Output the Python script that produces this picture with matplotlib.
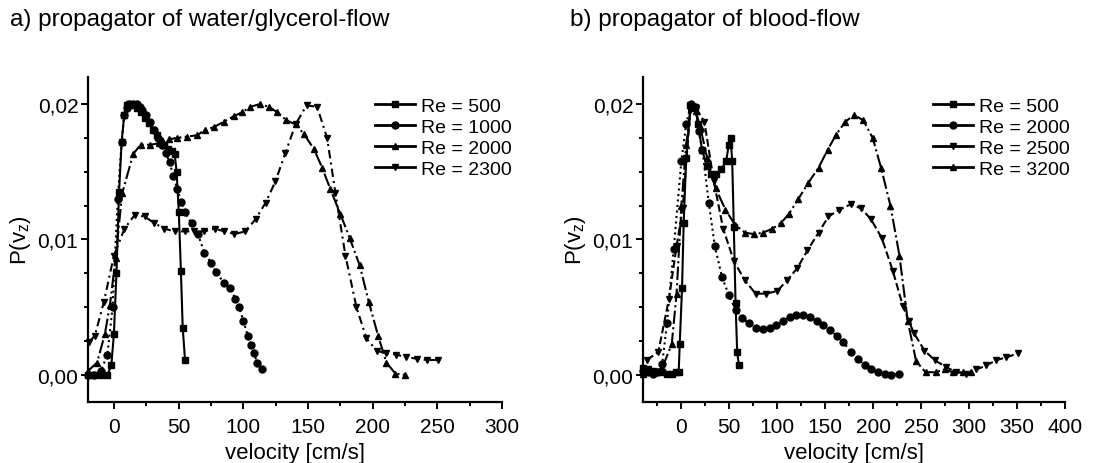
import matplotlib
matplotlib.use("Agg")
import matplotlib.pyplot as plt
from matplotlib.ticker import MultipleLocator, FuncFormatter

plt.rcParams['font.family'] = ['Liberation Sans', 'DejaVu Sans']

# ---------- panel a: water/glycerol ----------
a_labels = ["Re = 500", "Re = 1000", "Re = 2000", "Re = 2300"]
a500_x = [-20, -15, -10, -5, -2, 0, 2, 4, 6, 8, 10, 12, 15, 18, 21, 24, 27, 30, 33, 36, 39, 42, 45, 47, 48.5, 50.2, 51.8, 53.2, 55]
a500_y = [0.0, 0.0, 0.0, 0.0, 0.0007, 0.003, 0.0075, 0.0135, 0.0172, 0.0192, 0.0199, 0.0200, 0.0199, 0.0197, 0.0194, 0.0190, 0.0186, 0.0181, 0.0177, 0.0173, 0.0170, 0.0167, 0.0165, 0.0163, 0.0150, 0.0120, 0.0077, 0.0035, 0.0011]
a1000_x = [-20, -15, -10, -5, -1, 3, 6, 8, 10, 12, 15, 18, 20, 22, 25, 28, 31, 34, 37, 40, 43, 46, 49, 52, 55, 60, 65, 70, 75, 79, 85, 90, 94, 97, 100, 103.5, 106, 108, 111, 114.6]
a1000_y = [0.0, 0.0, 0.0003, 0.0015, 0.005, 0.013, 0.0172, 0.0192, 0.0197, 0.0200, 0.0200, 0.0200, 0.0198, 0.0196, 0.0192, 0.0187, 0.0181, 0.0175, 0.0170, 0.0164, 0.0157, 0.0147, 0.0137, 0.0128, 0.0120, 0.0112, 0.0104, 0.0090, 0.0083, 0.0076, 0.0068, 0.0064, 0.0056, 0.0050, 0.0040, 0.0029, 0.0022, 0.0016, 0.0009, 0.0004]
a2000_x = [-20, -13, -7, -3, 1.3, 6.4, 14.9, 20.6, 28.3, 34.8, 42.5, 48.9, 56.7, 64.4, 70.8, 77.3, 85, 92.7, 99.1, 105.6, 112.8, 119.8, 126.2, 133.4, 140.4, 146.8, 154.5, 161, 167.4, 175, 182.3, 190, 197, 204.2, 210.7, 217.6, 224.8]
a2000_y = [0.0003, 0.0009, 0.0030, 0.0052, 0.0086, 0.0134, 0.0163, 0.0170, 0.0170, 0.0171, 0.0174, 0.0175, 0.0176, 0.0177, 0.0181, 0.0183, 0.0187, 0.0191, 0.0194, 0.0198, 0.0200, 0.0198, 0.0194, 0.0188, 0.0185, 0.0178, 0.0167, 0.0153, 0.0137, 0.0119, 0.0101, 0.0081, 0.0054, 0.0029, 0.0009, 0.0001, 0.0000]
a2300_x = [-19.3, -14.7, -7.7, 0, 8.2, 16, 23.7, 31.4, 39.1, 46.9, 54.6, 62.3, 70, 77.8, 85.5, 93.2, 101.7, 109.5, 117.2, 124.9, 132.6, 140.4, 148.9, 157.1, 164.8, 171.3, 179, 187.5, 195.2, 203, 210, 218.4, 226.1, 234.4, 242, 250.3]
a2300_y = [0.0024, 0.0029, 0.0054, 0.0088, 0.0108, 0.0118, 0.0117, 0.0112, 0.0108, 0.0106, 0.0106, 0.0106, 0.0106, 0.0108, 0.0106, 0.0104, 0.0106, 0.0115, 0.0127, 0.0143, 0.0164, 0.0185, 0.0199, 0.0198, 0.0175, 0.0134, 0.0088, 0.0050, 0.0027, 0.0018, 0.0016, 0.0015, 0.0013, 0.0012, 0.0011, 0.0011]

# ---------- panel b: blood ----------
b_labels = ["Re = 500", "Re = 2000", "Re = 2500", "Re = 3200"]
b500_x = [-40, -35, -30, -25, -20, -15, -10, -6, -2.8, -1.7, 0.7, 2.4, 5, 9.4, 14.6, 17.4, 21.6, 26.9, 31.4, 36.3, 41.8, 46.7, 49.5, 51.3, 53, 54.7, 56.5, 58.2, 60]
b500_y = [0.0005, 0.0004, 0.0003, 0.0002, 0.0002, 0.0001, 0.0001, 0.0002, 0.0002, 0.0023, 0.0064, 0.0112, 0.0160, 0.0199, 0.0198, 0.0185, 0.0166, 0.0154, 0.0148, 0.0148, 0.0152, 0.0158, 0.0170, 0.0175, 0.0158, 0.0109, 0.0053, 0.0017, 0.0007]
b2000_x = [-40, -35, -30, -25, -20, -15, -8, 0, 5, 10, 14, 18, 22, 28.6, 34.9, 42.5, 49.5, 56.5, 63.5, 70.4, 77.4, 85, 92, 99, 106, 113, 120, 127, 134, 141, 148, 155, 162, 169, 177, 184, 191, 198, 205, 212, 219, 226.7]
b2000_y = [0.0003, 0.0002, 0.0001, 0.0002, 0.0008, 0.0038, 0.0093, 0.0158, 0.0185, 0.0200, 0.0198, 0.0180, 0.0166, 0.0127, 0.0095, 0.0072, 0.0059, 0.0048, 0.0042, 0.0038, 0.0035, 0.0034, 0.0035, 0.0037, 0.0040, 0.0043, 0.0044, 0.0044, 0.0043, 0.0040, 0.0037, 0.0033, 0.0029, 0.0024, 0.0017, 0.0012, 0.0007, 0.0004, 0.0002, 0.0001, 0.0000, 0.0001]
b2500_x = [-36, -24, -13, -5, 1.4, 9.4, 15.3, 24, 33.8, 43.6, 54.8, 66, 77.4, 88.6, 100, 110.5, 121, 131.5, 143, 153.4, 164.6, 176.8, 187.3, 197.7, 209, 220.4, 230.9, 237, 242.4, 253.5, 264, 275.5, 286.7, 296.4, 307.6, 318, 328.5, 339, 351.2]
b2500_y = [0.0011, 0.0017, 0.0056, 0.0095, 0.0123, 0.0196, 0.0197, 0.0187, 0.0143, 0.0108, 0.0084, 0.0070, 0.0060, 0.0060, 0.0062, 0.0070, 0.0079, 0.0092, 0.0105, 0.0117, 0.0122, 0.0126, 0.0123, 0.0115, 0.0101, 0.0077, 0.0051, 0.0040, 0.0031, 0.0018, 0.0011, 0.0006, 0.0002, 0.0001, 0.0004, 0.0007, 0.0011, 0.0013, 0.0016]
b3200_x = [-40, -30, -20, -10, -5, 0, 5, 10, 15, 20, 27, 35.6, 46, 55.8, 66.3, 75.7, 85, 94.9, 103.6, 112.3, 122, 132.5, 143, 152.4, 161, 170.9, 180.3, 189.7, 199.5, 208.2, 218, 227.4, 236, 244.8, 254.6, 265, 274.5, 283, 293.6, 302.4]
b3200_y = [0.0001, 0.0002, 0.0005, 0.0023, 0.0060, 0.0125, 0.0170, 0.0197, 0.0195, 0.0182, 0.0160, 0.0138, 0.0122, 0.0111, 0.0105, 0.0104, 0.0105, 0.0108, 0.0112, 0.0119, 0.0130, 0.0142, 0.0153, 0.0166, 0.0177, 0.0187, 0.0192, 0.0188, 0.0175, 0.0153, 0.0125, 0.0088, 0.0040, 0.0010, 0.0002, 0.0002, 0.0004, 0.0002, 0.0002, 0.0002]

fig = plt.figure(figsize=(11.08, 4.64), dpi=100)
axA = fig.add_axes([88/1108, 1-403/464, (502-88)/1108, (403-78)/464])
axB = fig.add_axes([643/1108, 1-403/464, (1065-643)/1108, (403-78)/464])

FS_TICK = 15
FS_LAB = 16
FS_LEG = 14
FS_TITLE = 17.5
comma = FuncFormatter(lambda v, p: ("%.2f" % v).replace(".", ","))
comma0 = FuncFormatter(lambda v, p: "%d" % v)

def style(ax, xmin, xmax, xmaj):
    ax.set_xlim(xmin, xmax)
    ax.set_ylim(-0.002, 0.022)
    for s in ("top", "right"):
        ax.spines[s].set_visible(False)
    for s in ("left", "bottom"):
        ax.spines[s].set_linewidth(1.6)
    ax.xaxis.set_major_locator(MultipleLocator(xmaj))
    ax.xaxis.set_minor_locator(MultipleLocator(xmaj / 2))
    ax.yaxis.set_major_locator(MultipleLocator(0.01))
    ax.yaxis.set_minor_locator(MultipleLocator(0.0025))
    ax.yaxis.set_major_formatter(comma)
    ax.xaxis.set_major_formatter(comma0)
    ax.tick_params(which="major", direction="out", length=5, width=1.4, labelsize=FS_TICK)
    ax.tick_params(which="minor", direction="out", length=3, width=1.4)
    ax.tick_params(axis="x", which="major", pad=6)
    ax.tick_params(axis="y", which="major", pad=2)
    ax.set_xlabel("velocity [cm/s]", fontsize=FS_LAB, labelpad=4)
    ax.set_ylabel("P(v$_\\mathregular{z}$)", fontsize=FS_LAB, labelpad=3)

kw = dict(color="black", lw=1.5, ms=5, clip_on=False)
axA.plot(a500_x, a500_y, marker="s", ls="-", label=a_labels[0], **kw)
axA.plot(a1000_x, a1000_y, marker="o", ls=":", label=a_labels[1], **kw)
axA.plot(a2000_x, a2000_y, marker="^", ls="-.", label=a_labels[2], **kw)
axA.plot(a2300_x, a2300_y, marker="v", ls=(0, (4, 2, 1, 2)), label=a_labels[3], **kw)
style(axA, -20, 300, 50)

axB.plot(b500_x, b500_y, marker="s", ls="-", label=b_labels[0], **kw)
axB.plot(b2000_x, b2000_y, marker="o", ls=":", label=b_labels[1], **kw)
axB.plot(b2500_x, b2500_y, marker="v", ls="--", label=b_labels[2], **kw)
axB.plot(b3200_x, b3200_y, marker="^", ls="-.", label=b_labels[3], **kw)
style(axB, -40, 400, 50)

for ax, x0 in ((axA, 0.693), (axB, 0.687)):
    leg = ax.legend(loc="upper left", bbox_to_anchor=(x0, 0.938), frameon=False, fontsize=FS_LEG,
                    handlelength=2.05, handletextpad=0.3, labelspacing=0.18, borderpad=0.0,
                    borderaxespad=0.0)
    for h in leg.get_lines():
        h.set_linestyle("-")
        h.set_linewidth(2.0)

fig.text(10/1108, 1-26/464, "a) propagator of water/glycerol-flow", fontsize=FS_TITLE, va="baseline", ha="left")
fig.text(570/1108, 1-26/464, "b) propagator of blood-flow", fontsize=FS_TITLE, va="baseline", ha="left")

fig.savefig("out.png", dpi=100)
